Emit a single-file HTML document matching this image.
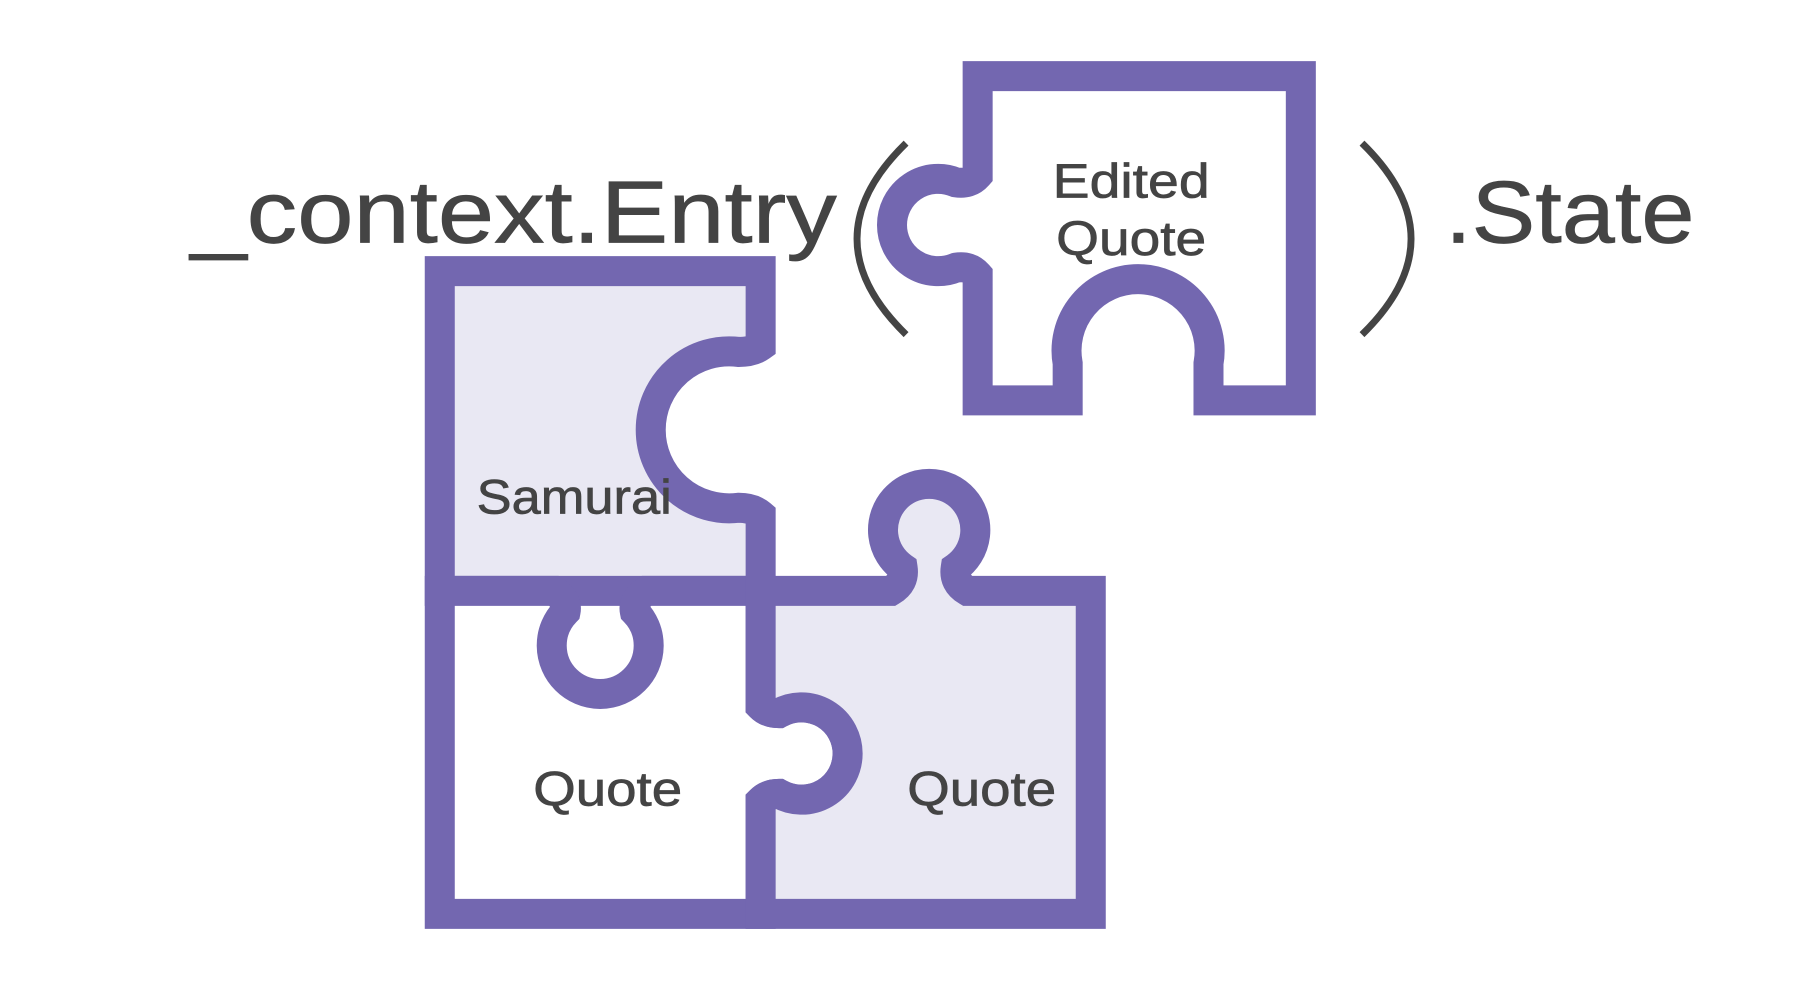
<!DOCTYPE html>
<html><head><meta charset="utf-8"><style>
html,body{margin:0;padding:0;background:#fff;width:1796px;height:982px;overflow:hidden}
svg{display:block}
text{font-family:"Liberation Sans",sans-serif;fill:#444;stroke:#444;stroke-width:0.6}
</style></head><body>
<svg width="1796" height="982" viewBox="0 0 1556 851" preserveAspectRatio="none" xmlns="http://www.w3.org/2000/svg">
<g stroke="#7367b0" stroke-width="26" stroke-linejoin="miter" stroke-miterlimit="2">
<!-- Samurai -->
<path d="M381,235 H659 V300 Q652,305 640,305 A68 68 0 1 0 640,440 Q652,440 659,446 V512 H381 Z" fill="#e9e8f3"/>
<!-- bottom-left -->
<path d="M381,512 H480 Q492,520 490,530 A42 42 0 1 0 550,530 Q548,520 560,512 H659 V612 Q665,618 675,618 A40 40 0 1 1 675,688 Q665,688 659,694 V792 H381 Z" fill="#fff"/>
<!-- bottom-right -->
<path d="M659,512 H772 Q784,505 782,492 A40 40 0 1 1 828,492 Q826,505 838,512 H945 V792 H659 V694 Q665,688 675,688 A40 40 0 1 0 675,618 Q665,618 659,612 Z" fill="#e9e8f3"/>
<!-- top-right -->
<path d="M847,66 H1127 V347 H1047 V315 A62 62 0 1 0 925,315 V347 H847 V238 Q840,230 828,232 A40 40 0 1 1 828,158 Q840,160 847,152 Z" fill="#fff"/>
</g>
<g fill="none" stroke="#444" stroke-width="6">
<path d="M785,124 Q700,207 785,290"/>
<path d="M1180,124 Q1265,207 1180,290"/>
</g>
<text x="165" y="210" font-size="76" textLength="560" lengthAdjust="spacingAndGlyphs">_context.Entry</text>
<text x="1252" y="210" font-size="76" textLength="216" lengthAdjust="spacingAndGlyphs">.State</text>
<text x="912" y="171" font-size="42" textLength="136" lengthAdjust="spacingAndGlyphs">Edited</text>
<text x="915" y="221" font-size="42" textLength="130" lengthAdjust="spacingAndGlyphs">Quote</text>
<text x="413" y="445" font-size="42" textLength="169" lengthAdjust="spacingAndGlyphs">Samurai</text>
<text x="462" y="698" font-size="42" textLength="129" lengthAdjust="spacingAndGlyphs">Quote</text>
<text x="786" y="698" font-size="42" textLength="129" lengthAdjust="spacingAndGlyphs">Quote</text>
</svg>
</body></html>
